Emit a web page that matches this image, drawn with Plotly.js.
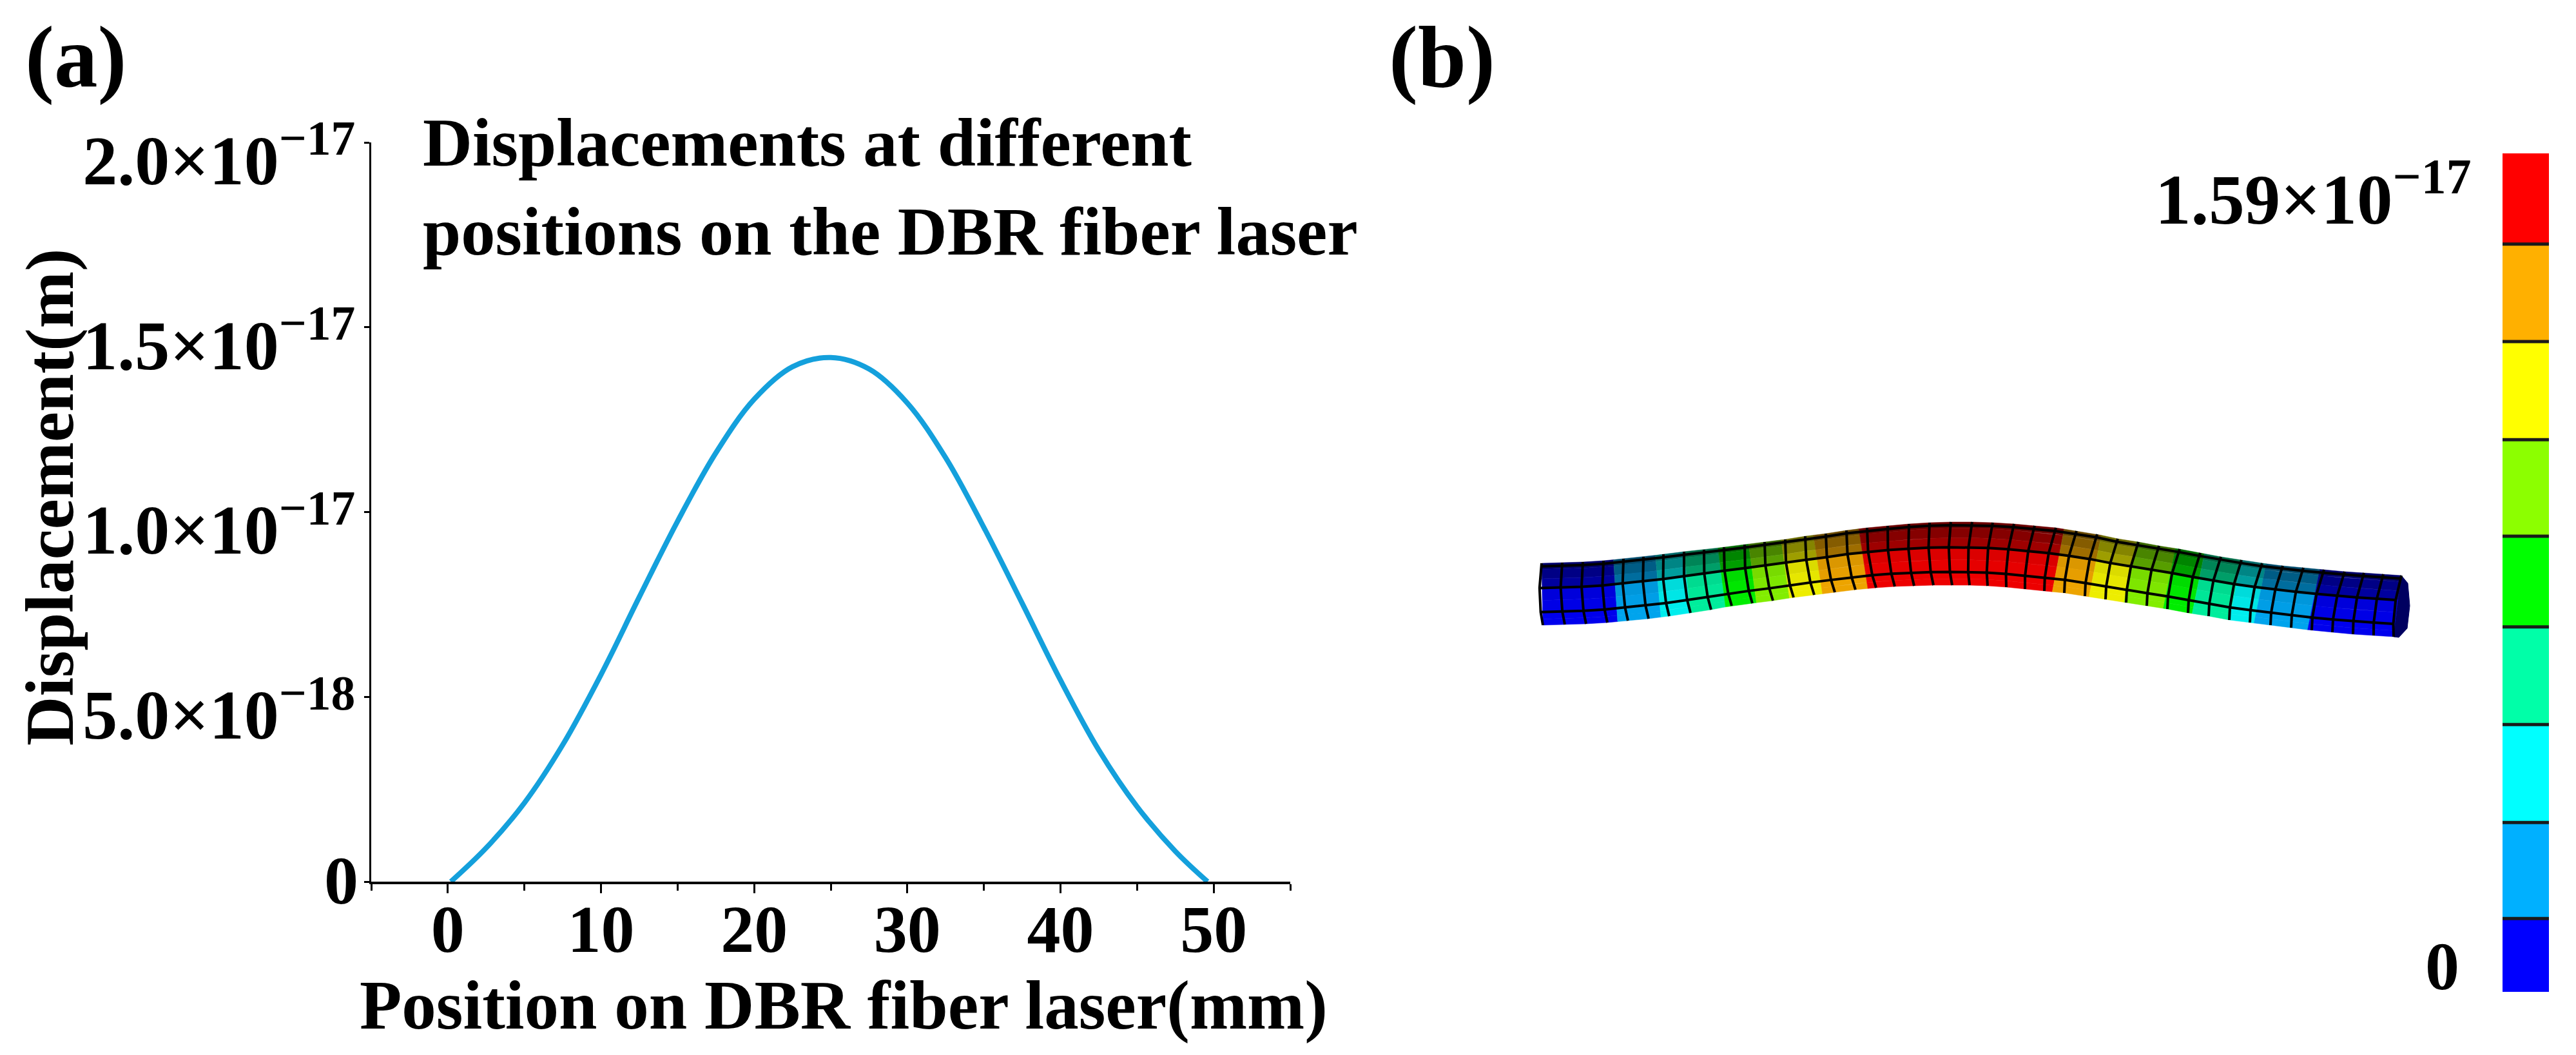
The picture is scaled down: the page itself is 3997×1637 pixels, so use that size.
<!DOCTYPE html>
<html>
<head>
<meta charset="utf-8">
<script src="https://cdn.plot.ly/plotly-3.0.1.min.js"></script>
<style>html,body{margin:0;padding:0;background:#fff}</style>
</head>
<body>
<div id="chart" style="width:3997px;height:1637px"></div>
<script>
// (a) displacement curve
const positionMm = [0.2,2.5,5,7.5,10,12.5,15,17.5,20,22.5,25,27.5,30,32.5,35,37.5,40,42.5,45,47.5,49.6];
const displacement = [0,0.091e-17,0.213e-17,0.37e-17,0.56e-17,0.77e-17,0.975e-17,1.16e-17,1.305e-17,1.393e-17,1.418e-17,1.387e-17,1.295e-17,1.147e-17,0.958e-17,0.753e-17,0.545e-17,0.356e-17,0.203e-17,0.082e-17,0];
const yTickVals = [0,5e-18,1e-17,1.5e-17,2e-17];
const yTickText = ["","5.0×10<sup>−18</sup>","1.0×10<sup>−17</sup>","1.5×10<sup>−17</sup>","2.0×10<sup>−17</sup>"];
const xTickVals = [0,10,20,30,40,50];

// (b) colour scale: band colours and band edges (units of 1e-17 m)
const scaleColors = ["#0000ff","#00b0ff","#00ffff","#00ffa8","#00ff00","#8cff00","#ffff00","#ffb000","#ff0000"];
const scaleEdges = [0,0.139,0.321,0.507,0.692,0.864,1.047,1.233,1.418,1.59];

// (b) deformed fibre mesh: one column of each array per mesh ring
const meshTopX = [2392,2424,2456,2488,2519,2550,2581,2613,2644,2675,2707,2738,2770,2801,2833,2865,2897,2929,2962,2994,3027,3060,3092,3125,3157,3190,3222,3254,3286,3318,3350,3382,3414,3446,3478,3510,3542,3574,3606,3638,3668,3698,3726];
const meshTopY = [874,873,872,870,867,864,860,856,853,849,845,841,837,832,828,823,819,816,813,811,810,810,811,813,816,819,824,829,836,841,847,852,858,864,869,874,878,881,884,887,889,891,893];
const meshBotX = [2394,2428,2461,2494,2526,2558,2590,2623,2655,2687,2719,2751,2783,2815,2847,2879,2911,2940,2970,3000,3029,3056,3084,3113,3142,3172,3203,3235,3267,3299,3331,3363,3395,3427,3459,3491,3523,3555,3587,3619,3651,3683,3714];
const meshBotY = [970,969,968,966,963,960,956,951,946,940,936,932,927,923,919,915,912,910,909,908,908,908,909,911,914,917,920,925,930,935,940,945,951,956,962,966,970,974,978,981,984,986,988];
const capX = [3726,3736,3739,3735,3722,3714];
const capY = [893,905,940,975,989,988];
// colour bands along the fibre: start ring (fractional) and scale index
const bandStart = [0,3.5,5.6,7,8.7,10.2,11.8,13.4,15.6,25.4,27.2,28.9,30.8,32.2,34,35.2,37.8];
const bandEnd = [3.5,5.6,7,8.7,10.2,11.8,13.4,15.6,25.4,27.2,28.9,30.8,32.2,34,35.2,37.8,42];
const bandLevel = [0,1,2,3,4,5,6,7,8,7,6,5,4,3,2,1,0];
const stripEdges = [0,0.1,0.25,0.4,0.6,0.79,0.9,1];
const stripShade = [0.42,0.52,0.62,0.86,0.9,0.93,0.93];
const ringLines = [0.05,0.4,0.79];

const FONT = "Liberation Serif";
const bold = (size)=>({family:FONT,size:size,color:"#000",weight:"bold"});
function pt(s,v){
  const i = Math.min(Math.floor(s),meshTopX.length-2), f = s-i;
  const tx = meshTopX[i]+f*(meshTopX[i+1]-meshTopX[i]), ty = meshTopY[i]+f*(meshTopY[i+1]-meshTopY[i]);
  const bx = meshBotX[i]+f*(meshBotX[i+1]-meshBotX[i]), by = meshBotY[i]+f*(meshBotY[i+1]-meshBotY[i]);
  return [tx+v*(bx-tx), ty+v*(by-ty)];
}
function shade(hex,k){
  const n = parseInt(hex.slice(1),16);
  return `rgb(${Math.round((n>>16&255)*k)},${Math.round((n>>8&255)*k)},${Math.round((n&255)*k)})`;
}
const traces = [];
traces.push({x:positionMm,y:displacement,mode:"lines",type:"scatter",line:{color:"#14a0dc",width:8,shape:"spline",smoothing:1},xaxis:"x",yaxis:"y",name:"Displacement",hoverinfo:"skip"});

bandLevel.forEach((lvl,b)=>{
  stripShade.forEach((k,j)=>{
    const ss=[bandStart[b]];
    for(let r=Math.ceil(bandStart[b]+1e-6);r<bandEnd[b];r++) ss.push(r);
    ss.push(bandEnd[b]);
    const up=ss.map(s=>pt(s,stripEdges[j])), dn=ss.slice().reverse().map(s=>pt(s,stripEdges[j+1]));
    const poly=up.concat(dn);
    poly.push(poly[0]);
    traces.push({x:poly.map(p=>p[0]),y:poly.map(p=>p[1]),mode:"lines",type:"scatter",fill:"toself",
      fillcolor:shade(scaleColors[lvl],k),line:{width:0.5,color:shade(scaleColors[lvl],k)},xaxis:"x2",yaxis:"y2",hoverinfo:"skip",showlegend:false});
  });
});
traces.push({x:capX.concat([capX[0]]),y:capY.concat([capY[0]]),mode:"lines",type:"scatter",fill:"toself",fillcolor:"#000060",line:{width:1,color:"#000060"},xaxis:"x2",yaxis:"y2",hoverinfo:"skip"});
const gx=[],gy=[];
meshTopX.forEach((_,r)=>{
  [[0,0],[0.4,-4],[0.79,-3],[1,0]].forEach(([v,o])=>{const p=pt(r,v);gx.push(p[0]+o);gy.push(p[1]);});
  gx.push(null);gy.push(null);
});
ringLines.forEach(v=>{
  meshTopX.forEach((_,r)=>{const o=v==0.4?-4:v==0.79?-3:0;const p=pt(r,v);gx.push(p[0]+o);gy.push(p[1]);});
  gx.push(null);gy.push(null);
});
traces.push({x:gx,y:gy,mode:"lines",type:"scatter",line:{color:"#000",width:4},xaxis:"x2",yaxis:"y2",hoverinfo:"skip"});

traces.push({type:"heatmap",x:[0,1],y:scaleEdges,z:scaleColors.map((c,i)=>[i]),zmin:0,zmax:scaleColors.length-1,showscale:false,
  colorscale:scaleColors.map((c,i)=>[i/(scaleColors.length-1),c]),xaxis:"x3",yaxis:"y3",hoverinfo:"skip"});
const sx=[],sy=[];
scaleEdges.slice(1,-1).forEach(e=>{sx.push(0,1,null);sy.push(e,e,null);});
traces.push({x:sx,y:sy,mode:"lines",type:"scatter",line:{color:"#1a1a1a",width:5},xaxis:"x3",yaxis:"y3",hoverinfo:"skip"});

const W=3997,H=1637;
const dx=(a,b)=>[a/W,b/W], dy=(top,bot)=>[1-bot/H,1-top/H];
const hidden=(o)=>Object.assign({visible:false,fixedrange:true},o);
const layout={
  width:W,height:H,margin:{l:0,r:0,t:0,b:0},paper_bgcolor:"#fff",plot_bgcolor:"#fff",showlegend:false,
  font:{family:FONT,color:"#000"},
  title:{text:"Displacements at different<br>positions on the DBR fiber laser",x:656/W,xanchor:"left",xref:"paper",y:1-257/H,yanchor:"top",yref:"paper",font:bold(106.5)},
  xaxis:{domain:dx(576,2002),range:[-5,55],anchor:"y",tickmode:"array",tickvals:xTickVals,ticktext:xTickVals.map(String),
    ticks:"outside",ticklen:14,tickwidth:3,tickcolor:"#000",showline:true,linewidth:4,linecolor:"#000",zeroline:false,showgrid:false,
    minor:{dtick:5,tick0:0,ticks:"outside",ticklen:10,tickwidth:3,tickcolor:"#000",showgrid:false},
    tickfont:bold(104),ticklabelstandoff:-34},
  yaxis:{domain:dy(221,1368),range:[0,2e-17],anchor:"x",tickmode:"array",tickvals:yTickVals,ticktext:yTickText,
    ticks:"outside",ticklen:8,tickwidth:3,tickcolor:"#000",showline:true,linewidth:3,linecolor:"#000",zeroline:false,showgrid:false,
    tickfont:bold(108),ticklabelshift:27,ticklabelstandoff:-8},
  xaxis2:hidden({domain:dx(2300,3860),range:[2300,3860],anchor:"y2"}),
  yaxis2:hidden({domain:dy(780,1040),range:[1040,780],anchor:"x2"}),
  xaxis3:hidden({domain:dx(3883,3955),range:[0,1],anchor:"y3"}),
  yaxis3:hidden({domain:dy(238,1539),range:[0,1.59],anchor:"x3"}),
  annotations:[
    {text:"(a)",xref:"paper",yref:"paper",x:117/W,y:1-89/H,showarrow:false,xanchor:"center",yanchor:"middle",font:bold(135)},
    {text:"(b)",xref:"paper",yref:"paper",x:2237/W,y:1-89/H,showarrow:false,xanchor:"center",yanchor:"middle",font:bold(135)},
    {text:"Position on DBR fiber laser(mm)",xref:"paper",yref:"paper",x:1309/W,y:1-1560/H,showarrow:false,xanchor:"center",yanchor:"middle",font:bold(107)},
    {text:"Displacement(m)",xref:"paper",yref:"paper",x:78/W,y:1-772/H,textangle:-90,showarrow:false,xanchor:"center",yanchor:"middle",font:bold(106)},
    {text:"0",xref:"paper",yref:"paper",x:558/W,y:1-1366/H,showarrow:false,xanchor:"right",yanchor:"middle",font:bold(106)},
    {text:"1.59×10<sup>−17</sup>",xref:"paper",yref:"paper",x:3836/W,y:1-301/H,showarrow:false,xanchor:"right",yanchor:"middle",font:bold(111)},
    {text:"0",xref:"paper",yref:"paper",x:3789/W,y:1-1499/H,showarrow:false,xanchor:"center",yanchor:"middle",font:bold(106)}
  ]
};
Plotly.newPlot("chart",traces,layout,{displayModeBar:false,staticPlot:true});
</script>
</body>
</html>
